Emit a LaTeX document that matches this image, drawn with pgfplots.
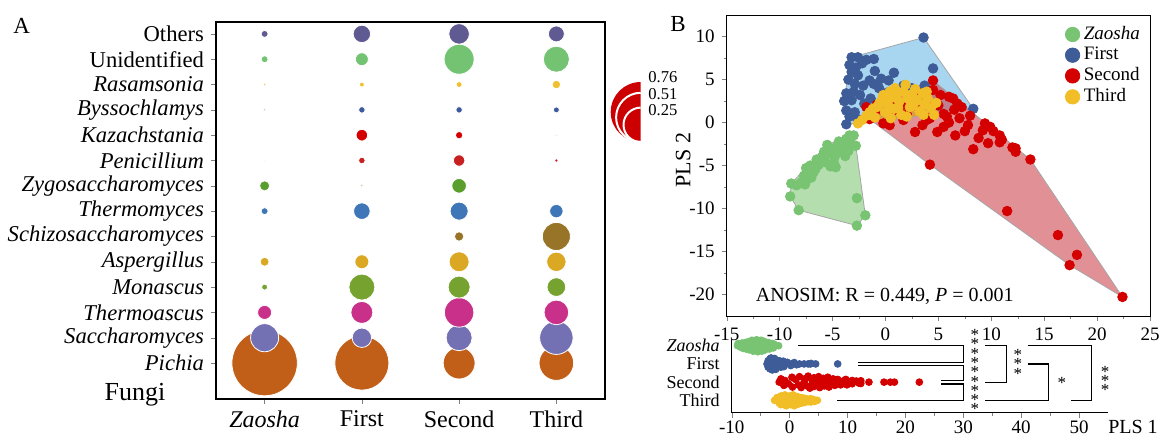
\documentclass[border=0pt]{standalone}
\usepackage{fontspec}
\setmainfont{Liberation Serif}
\usepackage{pgfplots}
\pgfplotsset{compat=1.18}
\usepackage{pgfplotstable}

\definecolor{cZ}{RGB}{120,196,115}
\definecolor{cF}{RGB}{62,92,152}
\definecolor{cS}{RGB}{212,0,0}
\definecolor{cT}{RGB}{242,190,40}
\definecolor{hZ}{RGB}{140,205,130}
\definecolor{hF}{RGB}{110,185,230}
\definecolor{hS}{RGB}{205,70,80}
\definecolor{hT}{RGB}{245,175,30}
\definecolor{legred}{RGB}{204,0,0}
% genus colours, bottom (Pichia) to top (Others)
\definecolor{ga}{RGB}{193,94,23}
\definecolor{gb}{RGB}{116,112,180}
\definecolor{gc}{RGB}{200,48,138}
\definecolor{gd}{RGB}{118,163,48}
\definecolor{ge}{RGB}{219,168,35}
\definecolor{gf}{RGB}{152,116,40}
\definecolor{gg}{RGB}{63,118,184}
\definecolor{gh}{RGB}{90,158,46}
\definecolor{gi}{RGB}{200,32,32}
\definecolor{gj}{RGB}{212,0,0}
\definecolor{gk}{RGB}{61,90,154}
\definecolor{gl}{RGB}{240,192,48}
\definecolor{gm}{RGB}{115,195,115}
\definecolor{gn}{RGB}{95,90,145}

% relative abundance: x = group (0 Zaosha ... 3 Third), y = genus row, c = genus class
\pgfplotstableread{
x y c v
0 1 a 0.76
1 1 a 0.52
2 1 a 0.18
3 1 a 0.213
0 2 b 0.14
1 2 b 0.067
2 2 b 0.12
3 2 b 0.198
0 3 c 0.035
1 3 c 0.086
2 3 c 0.154
3 3 c 0.108
0 4 d 0.0064
1 4 d 0.12
2 4 d 0.086
3 4 d 0.062
0 5 e 0.0144
1 5 e 0.035
2 5 e 0.071
3 5 e 0.067
1 6 f 0.0002
2 6 f 0.0157
3 6 f 0.14
0 7 g 0.0087
1 7 g 0.049
2 7 g 0.058
3 7 g 0.032
0 8 h 0.018
1 8 h 0.0012
2 8 h 0.038
0 9 i 0.0004
1 9 i 0.0077
2 9 i 0.023
3 9 i 0.0028
1 10 j 0.024
2 10 j 0.0097
3 10 j 0.0007
0 11 k 0.001
1 11 k 0.0077
2 11 k 0.0077
3 11 k 0.0064
0 12 l 0.0016
1 12 l 0.0044
2 12 l 0.0064
3 12 l 0.013
0 13 m 0.0087
1 13 m 0.030
2 13 m 0.16
3 13 m 0.12
0 14 n 0.0087
1 14 n 0.054
2 14 n 0.075
3 14 n 0.045
}\bubbles

% PLS scores: x = PLS1, y = PLS2, j = vertical offset in the strip plot
\pgfplotstableread{
x y j
-9.0 -8.6 0.0
-8.9 -7.1 0.08
-8.4 -7.3 -0.06
-8.2 -10.2 0.1
-8.0 -7.0 -0.1
-7.7 -6.2 0.05
-7.6 -7.2 0.12
-7.5 -5.3 -0.12
-7.4 -6.6 0.0
-7.1 -5.0 0.15
-7.0 -6.4 -0.15
-6.8 -5.8 0.05
-6.6 -5.4 -0.05
-6.5 -4.3 0.2
-6.3 -4.9 -0.2
-6.0 -4.0 0.1
-5.8 -3.4 -0.1
-5.7 -4.6 0.22
-5.5 -2.6 -0.22
-5.4 -3.6 0.0
-5.2 -5.1 0.14
-5.0 -3.2 -0.14
-4.9 -4.6 0.2
-4.8 -4.0 -0.2
-4.7 -5.2 0.06
-4.6 -2.8 -0.06
-4.4 -2.2 0.16
-4.3 -3.4 -0.16
-4.0 -2.5 0.1
-4.0 -3.0 -0.1
-3.8 -3.9 0.02
-3.7 -1.9 0.12
-3.5 -3.3 -0.12
-3.4 -1.5 0.05
-3.3 -2.4 -0.05
-3.0 -1.5 0.08
-2.8 -2.7 -0.08
-2.7 -8.8 0.0
-2.7 -12.0 0.06
-1.9 -10.8 0.0
}\dZ

\pgfplotstableread{
x y j
-3.9 2.5 0.0
-3.7 3.4 0.12
-3.7 1.4 -0.12
-3.7 -0.2 0.06
-3.5 5.0 -0.06
-3.4 6.7 0.18
-3.4 0.7 -0.18
-3.2 7.6 0.1
-3.2 5.9 -0.1
-3.2 2.6 0.22
-3.0 3.6 -0.22
-2.9 4.5 0.0
-2.9 1.2 0.15
-2.8 6.4 -0.15
-2.6 7.6 0.06
-2.6 5.5 -0.06
-2.6 0.4 0.2
-2.4 3.2 -0.2
-2.2 6.9 0.1
-2.1 4.3 -0.1
-2.0 2.2 0.0
-1.8 7.3 0.12
-1.5 4.9 -0.12
-1.4 2.8 0.05
-1.1 7.4 -0.05
-1.1 4.5 0.1
-1.0 6.0 -0.1
-0.6 4.0 0.0
-0.4 5.1 0.06
0.2 3.5 -0.06
0.3 4.9 0.0
0.8 5.8 0.05
1.2 3.8 -0.03
1.7 4.3 0.0
2.5 4.0 0.0
3.2 3.4 0.0
3.6 9.9 0.0
3.7 4.3 0.02
4.5 6.3 0.0
8.3 1.6 0.0
}\dF

\pgfplotstableread{
x y j
-1.8 1.8 0.0
-1.5 0.4 0.12
-1.0 1.2 -0.12
-0.8 2.1 0.06
-0.2 -0.1 -0.06
0.4 -0.3 0.18
0.5 2.2 -0.18
1.0 1.5 0.1
1.5 2.0 -0.1
1.7 0.3 0.2
2.0 1.0 -0.2
2.5 2.5 0.0
2.8 -1.1 0.14
3.0 3.0 -0.14
3.2 1.4 0.22
3.5 -0.3 -0.22
3.9 0.3 0.06
4.0 2.5 -0.06
4.2 0.5 0.16
4.2 -4.9 -0.16
4.5 4.9 0.0
4.5 3.8 0.1
4.9 -1.1 -0.1
5.0 2.0 0.2
5.2 3.2 -0.2
5.5 1.0 0.04
5.5 -0.5 -0.04
5.8 0.7 0.14
6.0 3.0 -0.14
6.0 0.0 0.0
6.4 2.8 0.1
6.5 1.5 -0.1
6.6 -1.5 0.18
6.8 2.2 -0.18
7.0 0.5 0.05
7.2 1.8 -0.05
7.5 -1.0 0.12
7.8 -0.3 -0.12
8.0 0.8 0.0
8.3 -3.1 0.1
8.8 -1.8 -0.1
9.2 -0.9 0.04
9.4 -0.1 -0.04
9.7 -2.4 0.1
9.9 -0.5 -0.1
10.2 -1.0 0.0
10.8 -2.3 0.06
10.8 -1.5 -0.06
11.0 -2.0 0.0
11.5 -10.3 0.04
12.0 -2.9 -0.04
12.3 -3.4 0.05
12.3 -3.0 -0.05
13.7 -4.3 0.0
16.3 -13.1 0.0
17.4 -16.6 0.0
18.1 -15.4 0.0
22.4 -20.3 0.0
}\dS

\pgfplotstableread{
x y j
-2.6 -0.1 0.0
-2.2 0.3 0.1
-1.8 0.8 -0.1
-1.5 1.2 0.16
-1.5 0.9 -0.16
-1.2 1.6 0.06
-1.0 0.6 -0.06
-0.8 1.8 0.2
-0.6 2.2 -0.2
-0.5 2.3 0.1
-0.3 2.8 -0.1
-0.2 3.2 0.0
0.0 1.2 0.16
0.2 2.2 -0.16
0.4 3.6 0.06
0.5 0.5 -0.06
0.6 2.9 0.2
0.8 1.6 -0.2
0.9 4.0 0.1
1.0 3.1 -0.1
1.2 1.7 0.0
1.3 2.4 0.14
1.5 0.9 -0.14
1.7 3.6 0.05
1.9 4.4 -0.05
2.0 0.7 0.1
2.1 2.8 -0.1
2.3 1.8 0.0
2.5 3.3 0.08
2.6 2.0 -0.08
2.8 3.9 0.0
3.0 2.6 0.05
3.2 1.3 -0.05
3.5 3.4 0.0
3.6 0.9 0.06
3.7 2.1 -0.06
3.9 3.6 0.0
4.0 2.8 0.04
4.3 1.7 -0.04
4.6 0.9 0.0
4.8 2.3 0.0
}\dT

\begin{document}
\begin{tikzpicture}
\useasboundingbox (0,0) rectangle (581pt,-218pt);

% ---------------- panel A: bubble chart
\begin{axis}[
  at={(108pt,-11pt)}, anchor=north west, scale only axis,
  width=194.5pt, height=188.5pt,
  xmin=-0.5, xmax=3.5, ymin=-0.42, ymax=14.47,
  xtick={0,1,2,3},
  xticklabels={\textit{Zaosha},First,Second,Third},
  ytick={1,...,14},
  yticklabels={\textit{Pichia},\textit{Saccharomyces},\textit{Thermoascus},\textit{Monascus},
    \textit{Aspergillus},\textit{Schizosaccharomyces},\textit{Thermomyces},\textit{Zygosaccharomyces},
    \textit{Penicillium},\textit{Kazachstania},\textit{Byssochlamys},\textit{Rasamsonia},Unidentified,Others},
  xtick pos=bottom, ytick pos=left, tick align=outside,
  major tick length=2.5pt,
  y tick label style={font=\fontsize{11.3}{13}\selectfont},
  x tick label style={font=\fontsize{12}{14}\selectfont},
  axis line style={line width=0.8pt},
  clip=false,
]
\addplot[scatter, only marks, mark=*,
  scatter src=explicit symbolic,
  scatter/classes={a={fill=ga}, b={fill=gb}, c={fill=gc}, d={fill=gd}, e={fill=ge},
    f={fill=gf}, g={fill=gg}, h={fill=gh}, i={fill=gi}, j={fill=gj}, k={fill=gk},
    l={fill=gl}, m={fill=gm}, n={fill=gn}},
  draw=white,
  visualization depends on={18.755*sqrt(\thisrow{v}) \as \rad},
  scatter/@pre marker code/.append style={/tikz/mark size=\rad, /tikz/line width=0.3pt, /tikz/draw=white}]
  table[x=x, y=y, meta=c] {\bubbles};
\end{axis}

\node[font=\fontsize{11.5}{13}\selectfont] at (10.85pt,-12.75pt) {A};
\node[font=\fontsize{13}{15}\selectfont] at (67.5pt,-197.5pt) {Fungi};

% size key
\fill[legred] (320.35pt,-71pt) arc[start angle=270, end angle=90, radius=15pt] -- cycle;
\draw[white, line width=1pt] (320.35pt,-71pt) arc[start angle=270, end angle=90, radius=12.3pt];
\draw[white, line width=1pt] (320.35pt,-71pt) arc[start angle=270, end angle=90, radius=8.6pt];
\node[anchor=west, inner sep=0pt, font=\fontsize{8.3}{9}\selectfont] at (324pt,-38.75pt) {0.76};
\node[anchor=west, inner sep=0pt, font=\fontsize{8.3}{9}\selectfont] at (324pt,-46.9pt) {0.51};
\node[anchor=west, inner sep=0pt, font=\fontsize{8.3}{9}\selectfont] at (324pt,-55pt) {0.25};

% ---------------- panel B: PLS scores
\node[font=\fontsize{11.5}{13}\selectfont] at (339pt,-12pt) {B};
\begin{axis}[
  at={(363.35pt,-7.5pt)}, anchor=north west, scale only axis,
  width=211.65pt, height=150.5pt,
  xmin=-15, xmax=25, ymin=-22.52, ymax=12.52,
  xtick={-15,-10,...,25}, ytick={-20,-15,...,10},
  minor tick num=1,
  xtick pos=bottom, ytick pos=left, tick align=outside,
  major tick length=2.5pt, minor tick length=1.5pt,
  tick label style={font=\fontsize{9.5}{11}\selectfont},
  /pgf/number format/assume math mode=true,
  ylabel={PLS 2},
  every axis y label/.style={at={(axis description cs:-0.103,0.518)}, rotate=90, anchor=center,
    font=\fontsize{11}{13}\selectfont},
  legend style={at={(0.785,0.99)}, anchor=north west, draw=none, fill=none,
    font=\fontsize{9.5}{11}\selectfont, row sep=-1.6pt},
  legend cell align=left,
  clip=false,
]
\addplot[forget plot, fill=hZ, fill opacity=0.65, draw=gray!70, line width=0.4pt]
  coordinates {(-9.0,-8.6) (-8.2,-10.2) (-2.7,-12.0) (-1.9,-10.8) (-2.8,-2.7) (-3.0,-1.5)
    (-3.4,-1.5) (-5.5,-2.6) (-8.9,-7.1) (-9.0,-8.6)};
\addplot[forget plot, fill=hF, fill opacity=0.6, draw=gray!70, line width=0.4pt]
  coordinates {(-3.7,-0.2) (-3.9,2.5) (-3.4,6.7) (-3.2,7.6) (3.6,9.9) (8.3,1.6) (-3.7,-0.2)};
\addplot[forget plot, fill=hS, fill opacity=0.6, draw=gray!70, line width=0.4pt]
  coordinates {(-1.8,1.8) (-1.5,0.4) (4.2,-4.9) (17.4,-16.6) (22.4,-20.3) (13.7,-4.3) (4.5,4.9) (-1.8,1.8)};
\addplot[forget plot, fill=hT, fill opacity=0.6, draw=gray!70, line width=0.4pt]
  coordinates {(-2.6,-0.1) (4.6,0.9) (4.8,2.3) (3.9,3.6) (1.9,4.4) (0.9,4.0) (-0.2,3.2) (-2.6,-0.1)};

\addplot[forget plot, only marks, mark=*, mark size=2.4pt, color=cZ] table[x=x, y=y] {\dZ};
\addplot[forget plot, only marks, mark=*, mark size=2.4pt, color=cF] table[x=x, y=y] {\dF};
\addplot[forget plot, only marks, mark=*, mark size=2.4pt, color=cS] table[x=x, y=y] {\dS};
\addplot[forget plot, only marks, mark=*, mark size=2.4pt, color=cT] table[x=x, y=y] {\dT};

\addlegendimage{only marks, mark=*, mark size=3.6pt, color=cZ}
\addlegendimage{only marks, mark=*, mark size=3.6pt, color=cF}
\addlegendimage{only marks, mark=*, mark size=3.6pt, color=cS}
\addlegendimage{only marks, mark=*, mark size=3.6pt, color=cT}
\legend{\textit{Zaosha},First,Second,Third}

\node[anchor=west, font=\fontsize{10}{12}\selectfont] at (axis cs:-12.9,-20.2)
  {ANOSIM: R = 0.449, \textit{P} = 0.001};
\end{axis}

% ---------------- panel B: PLS 1 strip plot
\begin{axis}[
  at={(365.85pt,-206.35pt)}, anchor=south west, scale only axis,
  width=188.2pt, height=36.4pt,
  xmin=-10, xmax=55, ymin=0.32, ymax=4.32,
  axis x line*=bottom, axis y line*=left,
  xtick={-10,0,...,50}, minor x tick num=1,
  ytick={1,2,3,4}, yticklabels={Third,Second,First,\textit{Zaosha}},
  ytick style={draw=none},
  tick align=outside,
  major tick length=2.5pt, minor tick length=1.5pt,
  x tick label style={font=\fontsize{9.5}{11}\selectfont, yshift=2pt},
  y tick label style={font=\fontsize{9}{11}\selectfont},
  /pgf/number format/assume math mode=true,
  clip=false,
]
\addplot[only marks, mark=*, mark size=1.7pt, color=cZ] table[x=x, y expr=4+1.5*\thisrow{j}] {\dZ};
\addplot[only marks, mark=*, mark size=1.7pt, color=cF] table[x=x, y expr=3+1.5*\thisrow{j}] {\dF};
\addplot[only marks, mark=*, mark size=1.7pt, color=cS] table[x=x, y expr=2+1.5*\thisrow{j}] {\dS};
\addplot[only marks, mark=*, mark size=1.7pt, color=cT] table[x=x, y expr=1+1.5*\thisrow{j}] {\dT};

\begin{scope}[line width=0.6pt]
\draw (axis cs:1.5,4) -- (axis cs:30,4) -- (axis cs:30,3.1) -- (axis cs:11.8,3.1);
\draw (axis cs:11.8,2.9) -- (axis cs:30,2.9) -- (axis cs:30,2.1) -- (axis cs:26.1,2.1);
\draw (axis cs:26.1,1.9) -- (axis cs:30,1.9) -- (axis cs:30,1) -- (axis cs:8.2,1);
\draw (axis cs:33.7,4) -- (axis cs:37.4,4) -- (axis cs:37.4,2) -- (axis cs:33.7,2);
\draw (axis cs:41.1,3) -- (axis cs:44.7,3) -- (axis cs:44.7,1) -- (axis cs:33.7,1);
\draw (axis cs:41.1,4) -- (axis cs:52.2,4) -- (axis cs:52.2,1) -- (axis cs:48.6,1);
\end{scope}
\pgfplotsinvokeforeach{0,...,8}{
  \node[inner sep=0pt, font=\fontsize{8.5}{9}\selectfont] at (axis cs:32.0,{4.59-#1*0.511}) {*};}
\pgfplotsinvokeforeach{0,1,2}{
  \node[inner sep=0pt, font=\fontsize{8.5}{9}\selectfont] at (axis cs:39.4,{3.49-#1*0.51}) {*};
  \node[inner sep=0pt, font=\fontsize{8.5}{9}\selectfont] at (axis cs:54.5,{2.57-#1*0.51}) {*};}
\node[inner sep=0pt, font=\fontsize{8.5}{9}\selectfont] at (axis cs:47.0,1.93) {*};
\node[font=\fontsize{10}{12}\selectfont] at (axis cs:59.3,-0.45) {PLS 1};
\end{axis}
\end{tikzpicture}
\end{document}
